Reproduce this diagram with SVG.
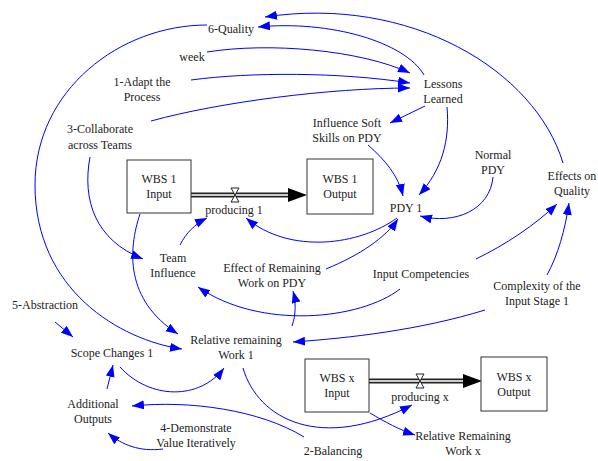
<svg xmlns="http://www.w3.org/2000/svg" width="598" height="461" viewBox="0 0 598 461">
<defs>
<marker id="ah" markerUnits="userSpaceOnUse" markerWidth="13" markerHeight="10" refX="12" refY="4.5" orient="auto">
<path d="M0,0 L12,4.5 L0,9 z" fill="#0000FF"/>
</marker>
<marker id="fh" markerUnits="userSpaceOnUse" markerWidth="20" markerHeight="14" refX="19" refY="7" orient="auto">
<path d="M0,0 L19,7 L0,14 z" fill="#000"/>
</marker>
<style>
text{font-family:"Liberation Serif","Times New Roman",serif;font-size:12px;fill:#222;text-anchor:middle}
.c{fill:none;stroke:#0000FF;stroke-width:1;marker-end:url(#ah)}
.box{fill:#fff;stroke:#333;stroke-width:1}
.pipeo{fill:none;stroke:#222;stroke-width:5}
.pipei{fill:none;stroke:#ccc;stroke-width:2}
.valve{fill:#fff;stroke:#222;stroke-width:1}
</style>
</defs>
<rect width="598" height="461" fill="#fff"/>

<g id="connectors">
<path class="c" d="M563,163 C535,70 410,-5 265,17"/>
<path class="c" d="M424,75 C405,42 330,20 258,27"/>
<path class="c" d="M207,52 C270,42 360,50 410,73"/>
<path class="c" d="M191,80 C250,72 340,72 410,83"/>
<path class="c" d="M151,121 C220,102 330,88 410,88"/>
<path class="c" d="M425,106 L390,123"/>
<path class="c" d="M447,107 C450,140 442,170 419,195"/>
<path class="c" d="M368,145 C385,160 398,175 403,196"/>
<path class="c" d="M493,177 C490,210 455,225 420,216"/>
<path class="c" d="M397,218 C360,245 290,255 246,218"/>
<path class="c" d="M326,269 C360,255 385,238 398,219"/>
<path class="c" d="M180,245 C186,233 195,224 207,218"/>
<path class="c" d="M90,157 C82,200 95,240 143,259"/>
<path class="c" d="M140,214 C128,250 125,300 178,334"/>
<path class="c" d="M207,25 C120,25 35,90 35,185 C35,290 120,340 182,349"/>
<path class="c" d="M400,289 C360,320 260,330 198,287"/>
<path class="c" d="M476,259 C505,245 535,225 557,204"/>
<path class="c" d="M547,275 C558,255 565,230 569,203"/>
<path class="c" d="M485,310 C420,330 350,338 293,342"/>
<path class="c" d="M292,326 C296,315 296,302 293,291"/>
<path class="c" d="M55,322 L73,337"/>
<path class="c" d="M120,367 C150,400 200,400 224,368"/>
<path class="c" d="M107,389 L113,365"/>
<path class="c" d="M304,437 C260,410 190,400 132,406"/>
<path class="c" d="M163,449 C140,452 122,445 108,433"/>
<path class="c" d="M243,368 C258,420 322,452 412,405"/>
<path class="c" d="M370,413 C385,422 400,430 415,435"/>
</g>

<g id="flow-producing-1">
<path class="pipeo" d="M191,195 L290,195"/>
<path class="pipei" d="M191,195 L290,195"/>
<path d="M288,188 L307,195 L288,202 z" fill="#000"/>
<path class="valve" d="M231,188 L239,188 L231,202 L239,202 z"/>
</g>
<g id="flow-producing-x">
<path class="pipeo" d="M369,381 L466,381"/>
<path class="pipei" d="M369,381 L466,381"/>
<path d="M463,374 L482,381 L463,388 z" fill="#000"/>
<path class="valve" d="M416,374 L424,374 L416,388 L424,388 z"/>
</g>

<g id="n-6-quality"><text x="231" y="33">6-Quality</text></g>
<g id="n-week"><text x="192" y="61">week</text></g>
<g id="n-adapt"><text x="142" y="86">1-Adapt the</text><text x="142" y="101">Process</text></g>
<g id="n-collaborate"><text x="100" y="133">3-Collaborate</text><text x="100" y="149">across Teams</text></g>
<g id="n-lessons"><text x="443" y="88">Lessons</text><text x="443" y="103">Learned</text></g>
<g id="n-soft-skills"><text x="347" y="127">Influence Soft</text><text x="347" y="142">Skills on PDY</text></g>
<g id="n-normal-pdy"><text x="493" y="159">Normal</text><text x="493" y="174">PDY</text></g>
<g id="n-effects-quality"><text x="572" y="180">Effects on</text><text x="572" y="195">Quality</text></g>
<g id="n-pdy1"><text x="406" y="212">PDY 1</text></g>
<g id="n-wbs1-input"><rect class="box" x="127" y="160" width="64" height="53"/><text x="159" y="183">WBS 1</text><text x="159" y="198">Input</text></g>
<g id="n-wbs1-output"><rect class="box" x="307" y="159" width="66" height="55"/><text x="340" y="183">WBS 1</text><text x="340" y="198">Output</text></g>
<g id="n-producing1"><text x="234" y="214">producing 1</text></g>
<g id="n-team-influence"><text x="173" y="262">Team</text><text x="173" y="277">Influence</text></g>
<g id="n-effect-remaining"><text x="272" y="272">Effect of Remaining</text><text x="272" y="287">Work on PDY</text></g>
<g id="n-input-competencies"><text x="421" y="278">Input Competencies</text></g>
<g id="n-complexity"><text x="537" y="290">Complexity of the</text><text x="537" y="305">Input Stage 1</text></g>
<g id="n-abstraction"><text x="45" y="309">5-Abstraction</text></g>
<g id="n-scope-changes"><text x="112" y="357">Scope Changes 1</text></g>
<g id="n-rel-remaining1"><text x="236" y="344">Relative remaining</text><text x="236" y="359">Work 1</text></g>
<g id="n-additional-outputs"><text x="93" y="408">Additional</text><text x="93" y="423">Outputs</text></g>
<g id="n-demonstrate"><text x="196" y="432">4-Demonstrate</text><text x="196" y="447">Value Iteratively</text></g>
<g id="n-balancing"><text x="333" y="455">2-Balancing</text></g>
<g id="n-wbsx-input"><rect class="box" x="305" y="359" width="64" height="53"/><text x="337" y="382">WBS x</text><text x="337" y="397">Input</text></g>
<g id="n-wbsx-output"><rect class="box" x="481" y="357" width="66" height="54"/><text x="514" y="381">WBS x</text><text x="514" y="396">Output</text></g>
<g id="n-producingx"><text x="420" y="401">producing x</text></g>
<g id="n-rel-remainingx"><text x="463" y="440">Relative Remaining</text><text x="463" y="455">Work x</text></g>
</svg>
